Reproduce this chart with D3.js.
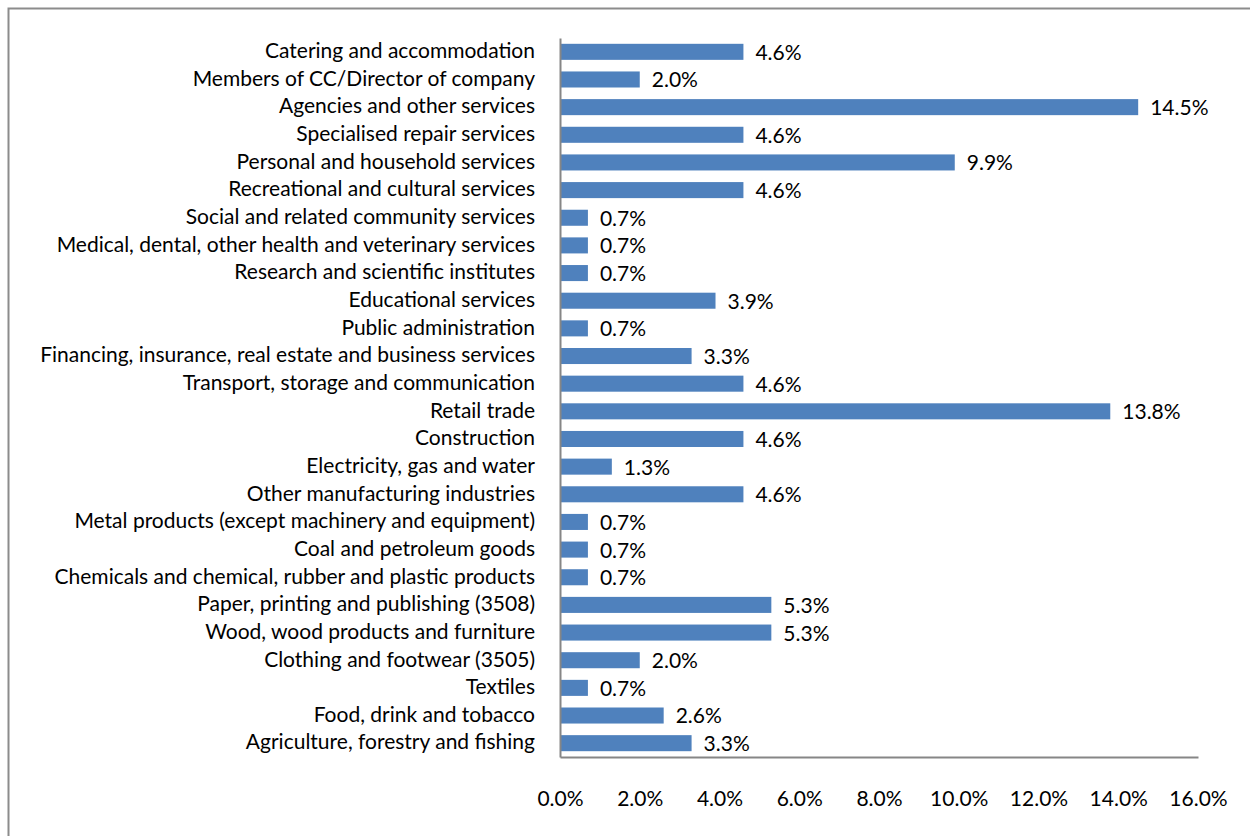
<!DOCTYPE html>
<html>
<head>
<meta charset="utf-8">
<script src="https://cdn.jsdelivr.net/npm/d3@7"></script>
<style>
  body { margin: 0; background: #fff; }
  #container { width: 1250px; height: 836px; }
  text { font-family: Lato, "Open Sans", sans-serif; fill: #000; }
</style>
</head>
<body>
<div id="container"></div>
<script>
const categories = [
  'Catering and accommodation',
  'Members of CC/Director of company',
  'Agencies and other services',
  'Specialised repair services',
  'Personal and household services',
  'Recreational and cultural services',
  'Social and related community services',
  'Medical, dental, other health and veterinary services',
  'Research and scientific institutes',
  'Educational services',
  'Public administration',
  'Financing, insurance, real estate and business services',
  'Transport, storage and communication',
  'Retail trade',
  'Construction',
  'Electricity, gas and water',
  'Other manufacturing industries',
  'Metal products (except machinery and equipment)',
  'Coal and petroleum goods',
  'Chemicals and chemical, rubber and plastic products',
  'Paper, printing and publishing (3508)',
  'Wood, wood products and furniture',
  'Clothing and footwear (3505)',
  'Textiles',
  'Food, drink and tobacco',
  'Agriculture, forestry and fishing'
]

const values = [4.6, 2.0, 14.5, 4.6, 9.9, 4.6, 0.7, 0.7, 0.7, 3.9, 0.7, 3.3, 4.6,
  13.8, 4.6, 1.3, 4.6, 0.7, 0.7, 0.7, 5.3, 5.3, 2.0, 0.7, 2.6, 3.3]

const xTicks = [0, 2, 4, 6, 8, 10, 12, 14, 16]

const data = categories.map((c, i) => ({ key: c, value: values[i] }))

const w = 1250
const h = 836

const margin = { left: 560, right: 52, top: 38, bottom: 79 }
const fontSize = 21

const svg = d3.select('#container')
  .append('svg')
  .attr('width', w)
  .attr('height', h)

//CHART BORDER
svg.append('rect')
  .attr('x', 8.5)
  .attr('y', 8.5)
  .attr('width', 1260)
  .attr('height', 850)
  .attr('fill', 'none')
  .attr('stroke', '#8c8c8c')
  .attr('stroke-width', 2)

//SCALES
const x = d3.scaleLinear()
  .domain([0, 16])
  .range([margin.left, w - margin.right])

const y = d3.scaleBand()
  .domain(categories)
  .range([margin.top, h - margin.bottom])
  .paddingInner(0.42)
  .paddingOuter(0.21)

//BARS
svg.selectAll('rect.bar')
  .data(data)
  .enter()
  .append('rect')
  .attr('class', 'bar')
  .attr('x', x(0))
  .attr('y', d => y(d.key))
  .attr('width', d => x(d.value) - x(0))
  .attr('height', y.bandwidth())
  .attr('fill', '#4f81bd')

//VALUE LABELS
svg.selectAll('text.barLabel')
  .data(data)
  .enter()
  .append('text')
  .attr('class', 'barLabel')
  .attr('x', d => x(d.value) + 12)
  .attr('y', d => y(d.key) + y.bandwidth() / 2)
  .attr('dy', '0.38em')
  .attr('font-size', fontSize)
  .text(d => d.value.toFixed(1) + '%')

//CATEGORY LABELS
svg.selectAll('text.catLabel')
  .data(data)
  .enter()
  .append('text')
  .attr('class', 'catLabel')
  .attr('x', margin.left - 25)
  .attr('y', d => y(d.key) + y.bandwidth() / 2)
  .attr('dy', '0.3em')
  .attr('text-anchor', 'end')
  .attr('font-size', fontSize)
  .text(d => d.key)

//AXES
const xAxis = svg.append('g')
  .attr('transform', `translate(0,${h - margin.bottom})`)
  .call(d3.axisBottom(x).tickValues(xTicks).tickSize(0).tickPadding(34)
    .tickFormat(d => d.toFixed(1) + '%'))

xAxis.select('.domain').attr('stroke', '#868686').attr('stroke-width', 2)
xAxis.selectAll('text')
  .attr('font-size', fontSize)
  .attr('font-family', 'Lato, "Open Sans", sans-serif')

const yAxis = svg.append('g')
  .attr('transform', `translate(${margin.left},0)`)
  .call(d3.axisLeft(y).tickSize(0).tickFormat(''))

yAxis.select('.domain').attr('stroke', '#868686').attr('stroke-width', 2)
</script>
</body>
</html>
